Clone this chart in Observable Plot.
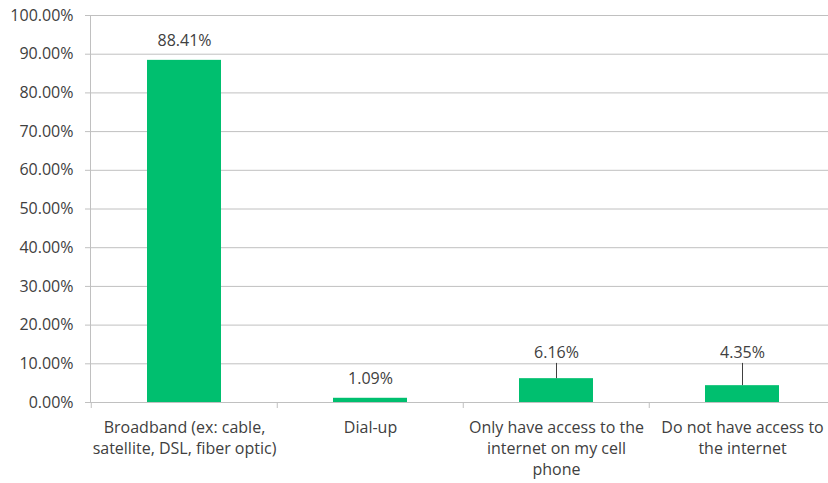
<!DOCTYPE html>
<html>
<head>
<meta charset="utf-8">
<script src="https://cdn.jsdelivr.net/npm/d3@7"></script>
<script src="https://cdn.jsdelivr.net/npm/@observablehq/plot@0.6"></script>
<style>
  html, body { margin: 0; padding: 0; background: #fff; overflow: hidden; }
  #chart svg { overflow: visible; }
</style>
</head>
<body>
<div id="chart"></div>
<script>
// ---- data ----
const categories = [
  "Broadband (ex: cable,\nsatellite, DSL, fiber optic)",
  "Dial-up",
  "Only have access to the\ninternet on my cell\nphone",
  "Do not have access to\nthe internet"
];
const values = [88.41, 1.09, 6.16, 4.35];
const valueLabels = ["88.41%", "1.09%", "6.16%", "4.35%"];
const yTicks = [0, 10, 20, 30, 40, 50, 60, 70, 80, 90, 100];

// ---- layout ----
const W = 828, H = 483;
const mLeft = 90, mRight = -8, mTop = 15, mBottom = 81;
const step = (W - mRight - mLeft) / categories.length;
const font = "'Open Sans', Lato, sans-serif";
const fs = 16;
const textColor = "#404040";
const gridColor = "#c0c0c0";
const barColor = "#00BF6F";
const calloutAt = 12.9;   // label level (in axis units) for callout labels
const calloutLine = 10.1; // where callout leader lines end

const data = categories.map((c, i) => ({category: c, value: values[i], label: valueLabels[i]}));
const direct = data.filter(d => d.value >= 1 && d.value < 3 || d.value > 50);
const callout = data.filter(d => !direct.includes(d));

const chart = Plot.plot({
  width: W,
  height: H,
  marginLeft: mLeft,
  marginRight: mRight,
  marginTop: mTop,
  marginBottom: mBottom,
  style: {fontFamily: font, fontSize: fs + "px", color: textColor, background: "#fff"},
  x: {domain: categories, paddingInner: 0.6, paddingOuter: 0.3, axis: null},
  y: {domain: [0, 100], axis: null},
  marks: [
    Plot.gridY(yTicks, {stroke: gridColor, strokeOpacity: 1, strokeWidth: 1}),
    Plot.axisY(yTicks, {
      tickSize: 5, tickPadding: 12, stroke: gridColor,
      tickFormat: d => d.toFixed(2) + "%", fill: textColor, fontSize: fs, label: null
    }),
    Plot.frame({anchor: "left", stroke: gridColor}),
    Plot.ruleY([0], {stroke: gridColor}),
    Plot.ruleX(categories, {x: d => d, dx: -step / 2, y1: 0, y2: 0, insetBottom: -6, stroke: gridColor}),
    Plot.axisX({
      tickSize: 0, tickPadding: 16, fill: textColor, fontSize: fs, label: null,
      lineHeight: 1.3
    }),
    Plot.barY(data, {x: "category", y: "value", fill: barColor}),
    Plot.text(direct, {x: "category", y: "value", text: "label", dy: -19, fill: textColor, fontSize: fs}),
    Plot.ruleX(callout, {x: "category", y1: "value", y2: () => calloutLine, stroke: "#404040", strokeWidth: 1}),
    Plot.text(callout, {x: "category", y: () => calloutAt, text: "label", fill: textColor, fontSize: fs})
  ]
});
document.getElementById("chart").appendChild(chart);
</script>
</body>
</html>
